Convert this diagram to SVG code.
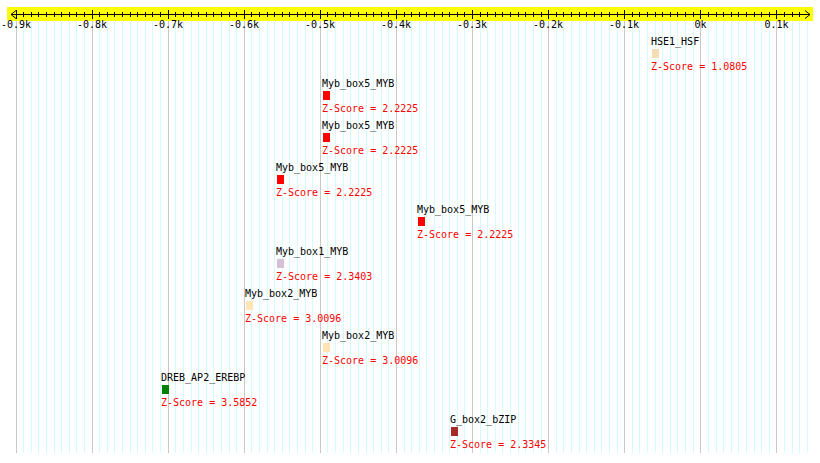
<svg xmlns="http://www.w3.org/2000/svg" width="820" height="463" viewBox="0 0 820 463">
<style>
text{font-family:"DejaVu Sans Mono","Liberation Mono",monospace;font-size:10px}
.lab{fill:#000}
.z{fill:#ff0000}
.ax{fill:#000;text-anchor:middle}
</style>
<rect width="820" height="463" fill="#fff"/>
<g id="grid" fill="none" stroke-width="1">
<path stroke="#d4fcfc" d="M23.5 21V453M31.5 21V453M38.5 21V453M46.5 21V453M54.5 21V453M61.5 21V453M69.5 21V453M76.5 21V453M84.5 21V453M99.5 21V453M107.5 21V453M114.5 21V453M122.5 21V453M130.5 21V453M137.5 21V453M145.5 21V453M152.5 21V453M160.5 21V453M175.5 21V453M183.5 21V453M191.5 21V453M198.5 21V453M206.5 21V453M213.5 21V453M221.5 21V453M229.5 21V453M236.5 21V453M251.5 21V453M259.5 21V453M267.5 21V453M274.5 21V453M282.5 21V453M289.5 21V453M297.5 21V453M305.5 21V453M312.5 21V453M327.5 21V453M335.5 21V453M343.5 21V453M350.5 21V453M358.5 21V453M366.5 21V453M373.5 21V453M381.5 21V453M388.5 21V453M404.5 21V453M411.5 21V453M419.5 21V453M426.5 21V453M434.5 21V453M442.5 21V453M449.5 21V453M457.5 21V453M464.5 21V453M480.5 21V453M487.5 21V453M495.5 21V453M502.5 21V453M510.5 21V453M518.5 21V453M525.5 21V453M533.5 21V453M541.5 21V453M556.5 21V453M563.5 21V453M571.5 21V453M579.5 21V453M586.5 21V453M594.5 21V453M601.5 21V453M609.5 21V453M617.5 21V453M632.5 21V453M639.5 21V453M647.5 21V453M655.5 21V453M662.5 21V453M670.5 21V453M677.5 21V453M685.5 21V453M693.5 21V453M708.5 21V453M716.5 21V453M723.5 21V453M731.5 21V453M738.5 21V453M746.5 21V453M754.5 21V453M761.5 21V453M769.5 21V453M784.5 21V453M792.5 21V453M799.5 21V453M807.5 21V453"/>
<path stroke="#c8c8c8" d="M16.5 21V453M92.5 21V453M168.5 21V453M244.5 21V453M320.5 21V453M396.5 21V453M472.5 21V453M548.5 21V453M624.5 21V453M700.5 21V453M776.5 21V453"/>
</g>
<g id="axis">
<rect x="7" y="7" width="806" height="14" fill="#ffff00"/>
<path fill="none" stroke="#000" d="M11 14.5H810M16 10.5L11 14.5L16 18.5M805 10.5L810 14.5L805 18.5"/>
<path fill="none" stroke="#000" d="M23.5 12V17M31.5 12V17M38.5 12V17M46.5 12V17M54.5 12V17M61.5 12V17M69.5 12V17M76.5 12V17M84.5 12V17M99.5 12V17M107.5 12V17M114.5 12V17M122.5 12V17M130.5 12V17M137.5 12V17M145.5 12V17M152.5 12V17M160.5 12V17M175.5 12V17M183.5 12V17M191.5 12V17M198.5 12V17M206.5 12V17M213.5 12V17M221.5 12V17M229.5 12V17M236.5 12V17M251.5 12V17M259.5 12V17M267.5 12V17M274.5 12V17M282.5 12V17M289.5 12V17M297.5 12V17M305.5 12V17M312.5 12V17M327.5 12V17M335.5 12V17M343.5 12V17M350.5 12V17M358.5 12V17M366.5 12V17M373.5 12V17M381.5 12V17M388.5 12V17M404.5 12V17M411.5 12V17M419.5 12V17M426.5 12V17M434.5 12V17M442.5 12V17M449.5 12V17M457.5 12V17M464.5 12V17M480.5 12V17M487.5 12V17M495.5 12V17M502.5 12V17M510.5 12V17M518.5 12V17M525.5 12V17M533.5 12V17M541.5 12V17M556.5 12V17M563.5 12V17M571.5 12V17M579.5 12V17M586.5 12V17M594.5 12V17M601.5 12V17M609.5 12V17M617.5 12V17M632.5 12V17M639.5 12V17M647.5 12V17M655.5 12V17M662.5 12V17M670.5 12V17M677.5 12V17M685.5 12V17M693.5 12V17M708.5 12V17M716.5 12V17M723.5 12V17M731.5 12V17M738.5 12V17M746.5 12V17M754.5 12V17M761.5 12V17M769.5 12V17M784.5 12V17M792.5 12V17M799.5 12V17"/>
<path fill="none" stroke="#000" d="M16.5 10V19M92.5 10V19M168.5 10V19M244.5 10V19M320.5 10V19M396.5 10V19M472.5 10V19M548.5 10V19M624.5 10V19M700.5 10V19M776.5 10V19"/>
<text class="ax" x="16" y="28">-0.9k</text>
<text class="ax" x="92" y="28">-0.8k</text>
<text class="ax" x="168" y="28">-0.7k</text>
<text class="ax" x="244" y="28">-0.6k</text>
<text class="ax" x="320" y="28">-0.5k</text>
<text class="ax" x="396" y="28">-0.4k</text>
<text class="ax" x="472" y="28">-0.3k</text>
<text class="ax" x="548" y="28">-0.2k</text>
<text class="ax" x="624" y="28">-0.1k</text>
<text class="ax" x="700.5" y="28">0k</text>
<text class="ax" x="776.5" y="28">0.1k</text>
</g>
<g id="connectors"/>
<g id="n0"><text class="lab" x="651" y="45">HSE1_HSF</text><rect x="652" y="49" width="7" height="9" fill="#f5deb3"/><text class="z" x="651" y="69.5">Z-Score = 1.0805</text></g>
<g id="n1"><text class="lab" x="322" y="87">Myb_box5_MYB</text><rect x="323" y="91" width="7" height="9" fill="#ff0000"/><text class="z" x="322" y="111.5">Z-Score = 2.2225</text></g>
<g id="n2"><text class="lab" x="322" y="129">Myb_box5_MYB</text><rect x="323" y="133" width="7" height="9" fill="#ff0000"/><text class="z" x="322" y="153.5">Z-Score = 2.2225</text></g>
<g id="n3"><text class="lab" x="276" y="171">Myb_box5_MYB</text><rect x="277" y="175" width="7" height="9" fill="#ff0000"/><text class="z" x="276" y="195.5">Z-Score = 2.2225</text></g>
<g id="n4"><text class="lab" x="417" y="213">Myb_box5_MYB</text><rect x="418" y="217" width="7" height="9" fill="#ff0000"/><text class="z" x="417" y="237.5">Z-Score = 2.2225</text></g>
<g id="n5"><text class="lab" x="276" y="255">Myb_box1_MYB</text><rect x="277" y="259" width="7" height="9" fill="#d8bfd8"/><text class="z" x="276" y="279.5">Z-Score = 2.3403</text></g>
<g id="n6"><text class="lab" x="245" y="297">Myb_box2_MYB</text><rect x="246" y="301" width="7" height="9" fill="#ffe4b5"/><text class="z" x="245" y="321.5">Z-Score = 3.0096</text></g>
<g id="n7"><text class="lab" x="322" y="339">Myb_box2_MYB</text><rect x="323" y="343" width="7" height="9" fill="#ffe4b5"/><text class="z" x="322" y="363.5">Z-Score = 3.0096</text></g>
<g id="n8"><text class="lab" x="161" y="381">DREB_AP2_EREBP</text><rect x="162" y="385" width="7" height="9" fill="#008000"/><text class="z" x="161" y="405.5">Z-Score = 3.5852</text></g>
<g id="n9"><text class="lab" x="450" y="423">G_box2_bZIP</text><rect x="451" y="427" width="7" height="9" fill="#a52a2a"/><text class="z" x="450" y="447.5">Z-Score = 2.3345</text></g>
</svg>
